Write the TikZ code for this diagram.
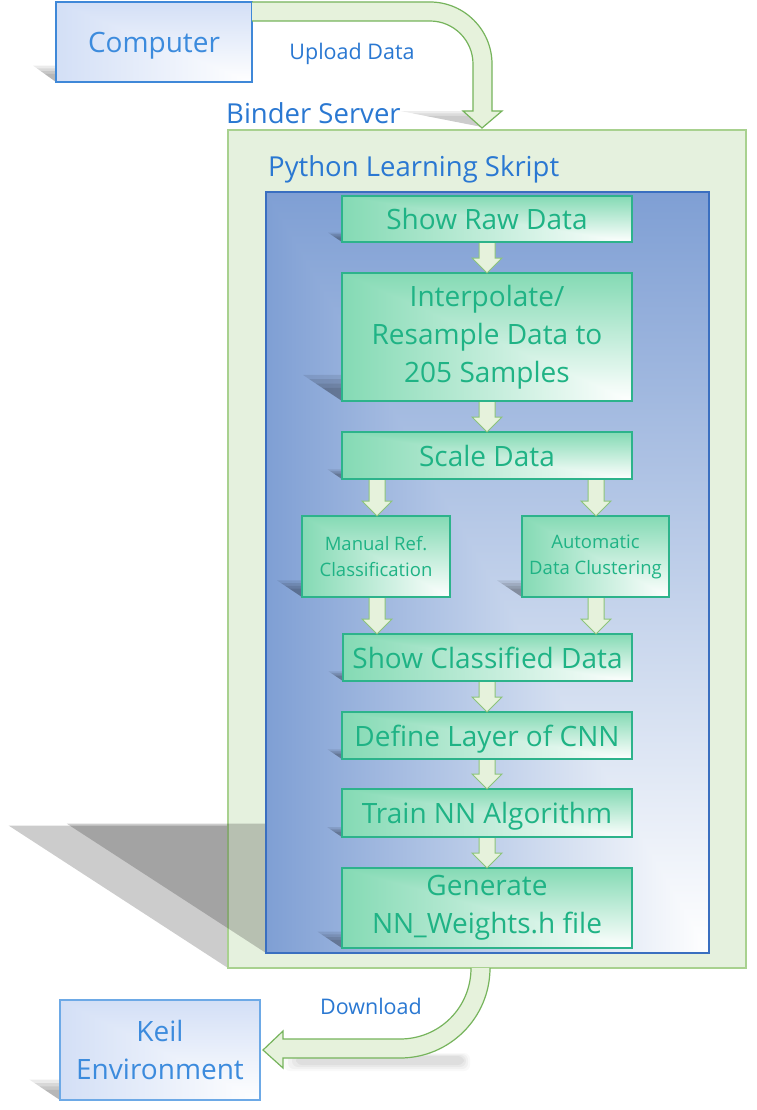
\documentclass[tikz,border=0pt]{standalone}
\usepackage{fontspec}
\setmainfont{Open Sans}
\usetikzlibrary{calc}
\definecolor{bluetxt}{HTML}{2A78D2}
\definecolor{lbluetxt}{HTML}{3C8BDD}
\definecolor{greentxt}{HTML}{1FB385}
\definecolor{gfill}{HTML}{84DAB4}
\definecolor{gborder}{HTML}{2DB38B}
\definecolor{innerdark}{HTML}{7F9FD4}
\definecolor{innerborder}{HTML}{3A6FC0}
\definecolor{binderfill}{HTML}{E5F1DE}
\definecolor{binderborder}{HTML}{A8D18F}
\definecolor{arrowfill}{HTML}{E6F2DC}
\definecolor{arrowborder}{HTML}{8CC47A}
\definecolor{bigarrowborder}{HTML}{76B45C}
\definecolor{compfill}{HTML}{D3DFF6}
\definecolor{compborder}{HTML}{3F88D8}
\definecolor{keilborder}{HTML}{6DA9E6}

\newcommand{\pshadow}[6]{% L, B, H, opacity, scales, ratio
  \pgfmathsetmacro{\shv}{0.17*#3}
  \pgfmathsetmacro{\shh}{#6*\shv}
  \foreach \s in {#5}{
    \fill[black, fill opacity=#4]
      (#1,#2) --
      ({#1},{#2-\s*\shv}) --
      ({#1-\s*\shh},{#2-\s*\shv}) -- cycle;
  }}

\newcommand{\blockarrow}[3]{% from node, to node, x-coordinate name
  \path[fill=arrowfill, draw=arrowborder, line width=1pt, line join=miter]
    ($(#3 |- #1.south)+(-8,1)$) --
    ($(#3 |- #2.north)+(-8,-15)$) --
    ($(#3 |- #2.north)+(-15,-15)$) --
    (#3 |- #2.north) --
    ($(#3 |- #2.north)+(15,-15)$) --
    ($(#3 |- #2.north)+(8,-15)$) --
    ($(#3 |- #1.south)+(8,1)$);
}

\tikzset{
  cornergrad/.style={path picture={
    \shade[top color=#1, bottom color=white]
      (path picture bounding box.north west) rectangle (path picture bounding box.south east);
    \begin{scope}
      \clip (path picture bounding box.north west) -- (path picture bounding box.south west)
            -- (path picture bounding box.south east) -- cycle;
      \shade[left color=#1, right color=white]
        (path picture bounding box.north west) rectangle (path picture bounding box.south east);
    \end{scope}}},
  gbox/.style={draw=gborder, line width=1.3pt, cornergrad=gfill, text=greentxt,
    align=center, inner sep=0pt, outer sep=0pt, anchor=north west,
    font=\fontsize{28pt}{38pt}\selectfont},
  oneline/.style={text depth=0pt},
  sbox/.style={gbox, font=\fontsize{18.5pt}{26pt}\selectfont},
  pcbox/.style={line width=1.3pt, cornergrad=compfill, text=lbluetxt, align=center,
    inner sep=0pt, outer sep=0pt, anchor=north west,
    font=\fontsize{28pt}{38pt}\selectfont},
  label/.style={text=bluetxt, inner sep=0pt, font=\fontsize{27.5pt}{30pt}\selectfont},
  arrowlabel/.style={text=bluetxt, inner sep=0pt, font=\fontsize{21.5pt}{24pt}\selectfont},
  bigarrow/.style={fill=arrowfill, draw=bigarrowborder, line width=1.2pt, line join=miter}
}

\begin{document}
\begin{tikzpicture}[x=1pt,y=-1pt]
\useasboundingbox[fill=white] (0,0) rectangle (756,1110);

% ---------- Computer ----------
\pshadow{56}{82}{80}{0.08}{0.6,0.8,1.0,1.2}{1.4}
\node[pcbox, oneline, draw=compborder, minimum width=196pt, minimum height=80pt] (comp) at (56,2) {Computer};

% ---------- Binder server ----------
\pshadow{228}{968}{838}{0.2}{1}{1.54}
\node[draw=binderborder, fill=binderfill, line width=1.8pt, minimum width=518pt,
  minimum height=838pt, anchor=north west, inner sep=0pt, outer sep=0pt] (binder) at (228,130) {};
\node[label, anchor=base west] (bindlab) at (226,124) {Binder Server};
\node[label, anchor=base west] (pylab) at (268,177) {Python Learning Skript};

% inner script box
\pshadow{266}{953}{761}{0.2}{1}{1.54}
\node[draw=innerborder, line width=1.3pt, cornergrad=innerdark, minimum width=443pt,
  minimum height=761pt, anchor=north west, inner sep=0pt, outer sep=0pt] (inner) at (266,192) {};

% shadows of green boxes
\pshadow{342}{242}{46}{0.09}{0.6,0.8,1.0,1.2}{1.5}
\pshadow{342}{401}{128}{0.09}{0.6,0.8,1.0,1.2}{1.5}
\pshadow{342}{479}{47}{0.09}{0.6,0.8,1.0,1.2}{1.5}
\pshadow{302}{597}{81}{0.09}{0.6,0.8,1.0,1.2}{1.5}
\pshadow{522}{597}{81}{0.09}{0.6,0.8,1.0,1.2}{1.5}
\pshadow{343}{681}{47}{0.09}{0.6,0.8,1.0,1.2}{1.5}
\pshadow{342}{759}{47}{0.09}{0.6,0.8,1.0,1.2}{1.5}
\pshadow{342}{837}{48}{0.09}{0.6,0.8,1.0,1.2}{1.5}
\pshadow{342}{948}{80}{0.09}{0.6,0.8,1.0,1.2}{1.5}

% green step boxes
\node[gbox, oneline, minimum width=290pt, minimum height=46pt] (raw) at (342,196) {Show Raw Data};
\node[gbox, minimum width=290pt, minimum height=128pt] (interp) at (342,273) {Interpolate/\\Resample Data to\\205 Samples};
\node[gbox, oneline, minimum width=290pt, minimum height=47pt] (scale) at (342,432) {Scale Data};
\node[sbox, minimum width=148pt, minimum height=81pt] (manual) at (302,516) {Manual Ref.\\Classification};
\node[sbox, minimum width=147pt, minimum height=81pt] (auto) at (522,516) {Automatic\\Data Clustering};
\node[gbox, oneline, minimum width=289pt, minimum height=47pt] (showc) at (343,634) {Show Classified Data};
\node[gbox, oneline, minimum width=290pt, minimum height=47pt] (define) at (342,712) {Define Layer of CNN};
\node[gbox, oneline, minimum width=290pt, minimum height=48pt] (train) at (342,789) {Train NN Algorithm};
\node[gbox, minimum width=290pt, minimum height=80pt] (gen) at (342,868) {Generate\\NN\_Weights.h file};

% block arrows between steps
\coordinate (cmain) at (487,0);
\coordinate (cleft) at (377,0);
\coordinate (cright) at (596,0);
\blockarrow{raw}{interp}{cmain}
\blockarrow{interp}{scale}{cmain}
\blockarrow{scale}{manual}{cleft}
\blockarrow{scale}{auto}{cright}
\blockarrow{manual}{showc}{cleft}
\blockarrow{auto}{showc}{cright}
\blockarrow{showc}{define}{cmain}
\blockarrow{define}{train}{cmain}
\blockarrow{train}{gen}{cmain}

% ---------- Upload arrow ----------
\pshadow{482}{127}{94}{0.07}{0.7,0.85,1.0}{5.1}
\path[bigarrow] (comp.north east) -- (430,2)
  .. controls (464.2,2) and (492,29.8) .. (492,64) -- (492,111) -- (502,111)
  -- ($(binder.north)+(-5,-2)$) -- (463,111) -- (473,111) -- (473,64)
  .. controls (473,40.3) and (453.7,21) .. (430,21) -- ($(comp.north east)+(0,19)$);
\node[arrowlabel] (uplab) at (352,54) {Upload Data};

% ---------- Keil ----------
\pshadow{60}{1100}{100}{0.08}{0.6,0.8,1.0,1.2}{1.5}
\node[pcbox, draw=keilborder, minimum width=200pt, minimum height=100pt] (keil) at (60,1000) {Keil\\Environment};

% ---------- Download arrow ----------
\foreach \e/\o in {0/0.025,2/0.03,4/0.035,6/0.04}{
  \fill[black, fill opacity=\o, rounded corners=6pt] (284+2*\e,1053+\e/2) rectangle (470-\e,1071-\e);
}
\path[bigarrow] ($(binder.south)+(-16,0)$)
  .. controls (471,1007.8) and (439.2,1039) .. (400,1039) -- (283,1039) -- (283,1031)
  -- ($(keil.east)+(3,0)$) -- (283,1068) -- (283,1058) -- (400,1058)
  .. controls (449.7,1058) and (490,1017.7) .. ($(binder.south)+(3,0)$);
\node[arrowlabel] (downlab) at (371,1006) {Download};

\end{tikzpicture}
\end{document}
